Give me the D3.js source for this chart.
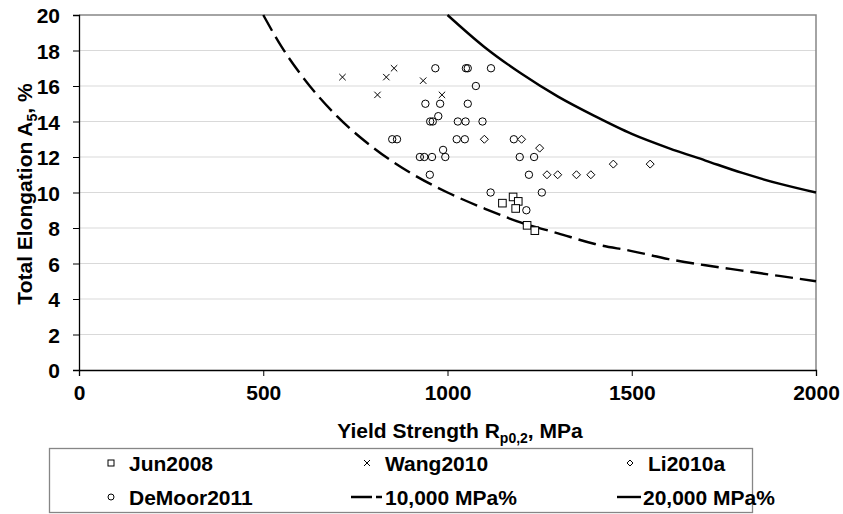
<!DOCTYPE html>
<html>
<head>
<meta charset="utf-8">
<script src="https://cdn.jsdelivr.net/npm/d3@7"></script>
<style>
body{margin:0;background:#fff;}
text{font-family:"Liberation Sans",Arial,sans-serif;font-weight:bold;fill:#000;font-size:21px;}
</style>
</head>
<body>
<svg id="graf" width="843" height="514"></svg>
<script>
// data
var junX = [1149, 1178, 1192, 1185, 1216, 1237];
var junY = [9.4, 9.75, 9.5, 9.1, 8.15, 7.85];

var wangX = [715, 810, 834, 855, 934, 985];
var wangY = [16.5, 15.5, 16.5, 17, 16.3, 15.5];

var liX = [1100, 1201, 1250, 1270, 1299, 1350, 1389, 1450, 1550];
var liY = [13, 13, 12.5, 11, 11, 11, 11, 11.6, 11.6];

var moorX = [967, 1050, 1055, 1118, 1077, 940, 980, 1055, 975, 953, 960, 1028, 1049, 1095,
  850, 863, 1025, 1047, 1180, 988, 925, 937, 958, 994, 1196, 1235, 952, 1221, 1117, 1256, 1214];
var moorY = [17, 17, 17, 17, 16, 15, 15, 15, 14.3, 14, 14, 14, 14, 14,
  13, 13, 13, 13, 13, 12.4, 12, 12, 12, 12, 12, 12, 11, 11, 10, 10, 9];

var dashX = [500, 550, 600, 700, 800, 900, 1000, 1100, 1200, 1300, 1400, 1500, 1600, 1700, 1800, 1900, 2000];
var dashY = [20, 18.2, 16.7, 14.3, 12.5, 11.1, 10, 9.1, 8.3, 7.7, 7.1, 6.7, 6.25, 5.9, 5.6, 5.3, 5];

var solidX = [1000, 1100, 1200, 1300, 1400, 1500, 1600, 1700, 1800, 1900, 2000];
var solidY = [20, 18.2, 16.7, 15.4, 14.3, 13.3, 12.5, 11.8, 11.1, 10.5, 10];

var xTicks = [0, 500, 1000, 1500, 2000];
var yTicks = [0, 2, 4, 6, 8, 10, 12, 14, 16, 18, 20];

var legendNames = ["Jun2008", "Wang2010", "Li2010a", "DeMoor2011", "10,000 MPa%", "20,000 MPa%"];

function zip(a, b){
  return a.map(function(d, i){ return [d, b[i]]; });
}

function marca(g, tipo, cx, cy, s){
  // s = half size of the marker
  if(tipo == "square"){
    g.append("rect").attr("x", cx - s).attr("y", cy - s).attr("width", 2 * s).attr("height", 2 * s)
      .attr("fill", "#fff").attr("stroke", "#000").attr("stroke-width", 1);
  } else if(tipo == "circle"){
    g.append("circle").attr("cx", cx).attr("cy", cy).attr("r", s)
      .attr("fill", "none").attr("stroke", "#000").attr("stroke-width", 1);
  } else if(tipo == "diamond"){
    g.append("path")
      .attr("d", "M" + cx + "," + (cy - s) + "L" + (cx + s) + "," + cy + "L" + cx + "," + (cy + s) + "L" + (cx - s) + "," + cy + "Z")
      .attr("fill", "#fff").attr("stroke", "#000").attr("stroke-width", 1);
  } else if(tipo == "cross"){
    g.append("path")
      .attr("d", "M" + (cx - s) + "," + (cy - s) + "L" + (cx + s) + "," + (cy + s) + "M" + (cx + s) + "," + (cy - s) + "L" + (cx - s) + "," + (cy + s))
      .attr("stroke", "#000").attr("stroke-width", 1);
  }
}

function graficar(){
  var svg = d3.select("#graf");
  var left = 79, right = 816, top = 15, bottom = 370;

  var x = d3.scaleLinear().domain([0, 2000]).range([left, right]);
  var y = d3.scaleLinear().domain([0, 20]).range([bottom, top]);

  // grid
  svg.append("g").selectAll("line")
    .data(yTicks.slice(1, -1))
    .enter().append("line")
    .attr("x1", left).attr("x2", right)
    .attr("y1", function(d){ return y(d); })
    .attr("y2", function(d){ return y(d); })
    .attr("stroke", "#d9d9d9").attr("stroke-width", 1);

  // frame top and right
  svg.append("path")
    .attr("d", "M" + left + "," + top + "H" + right + "V" + bottom)
    .attr("fill", "none").attr("stroke", "#868686").attr("stroke-width", 1.5);

  // axes
  var ax = svg.append("g").attr("transform", "translate(0," + bottom + ")")
    .call(d3.axisBottom(x).tickValues(xTicks).tickSize(6).tickFormat(d3.format("d")));
  ax.select(".domain").attr("stroke", "#000").attr("stroke-width", 1.3);
  ax.selectAll(".tick line").attr("stroke", "#000");
  ax.selectAll(".tick text").attr("y", 30).attr("dy", 0).style("font-size", "21px")
    .style("font-family", "'Liberation Sans',Arial,sans-serif").style("font-weight", "bold");

  var ay = svg.append("g").attr("transform", "translate(" + left + ",0)")
    .call(d3.axisLeft(y).tickValues(yTicks).tickSize(6));
  ay.select(".domain").attr("stroke", "#000").attr("stroke-width", 1.3);
  ay.selectAll(".tick line").attr("stroke", "#000");
  ay.selectAll(".tick text").attr("x", -19).attr("dy", "0.36em").style("font-size", "21px")
    .style("font-family", "'Liberation Sans',Arial,sans-serif").style("font-weight", "bold");

  // curves
  var linea = d3.line().x(function(d){ return x(d[0]); }).y(function(d){ return y(d[1]); })
    .curve(d3.curveMonotoneX);

  svg.append("path").datum(zip(dashX, dashY)).attr("d", linea)
    .attr("fill", "none").attr("stroke", "#000").attr("stroke-width", 2.4)
    .attr("stroke-dasharray", "18,7");
  svg.append("path").datum(zip(solidX, solidY)).attr("d", linea)
    .attr("fill", "none").attr("stroke", "#000").attr("stroke-width", 2.4);

  // points
  var gp = svg.append("g");
  zip(moorX, moorY).forEach(function(d){ marca(gp, "circle", x(d[0]), y(d[1]), 3.7); });
  zip(wangX, wangY).forEach(function(d){ marca(gp, "cross", x(d[0]), y(d[1]), 3.2); });
  zip(liX, liY).forEach(function(d){ marca(gp, "diamond", x(d[0]), y(d[1]), 4); });
  zip(junX, junY).forEach(function(d){ marca(gp, "square", x(d[0]), y(d[1]), 3.8); });

  // titles
  var tx = svg.append("text").attr("x", 460).attr("y", 438).attr("text-anchor", "middle");
  tx.append("tspan").text("Yield Strength R");
  tx.append("tspan").text("p0,2").attr("font-size", "14px").attr("dy", 5);
  tx.append("tspan").text(", MPa").attr("dy", -5);

  var ty = svg.append("text").attr("transform", "translate(32,194) rotate(-90)").attr("text-anchor", "middle");
  ty.append("tspan").text("Total Elongation A");
  ty.append("tspan").text("5").attr("font-size", "14px").attr("dy", 5);
  ty.append("tspan").text(", %").attr("dy", -5);

  // legend
  svg.append("rect").attr("x", 49.5).attr("y", 448.5).attr("width", 703).attr("height", 64)
    .attr("fill", "#fff").attr("stroke", "#868686").attr("stroke-width", 1.3);

  var colX = [111, 367, 630];
  var rowY = [463, 497];
  var tipos = ["square", "cross", "diamond", "circle", "dash", "solid"];
  var gl = svg.append("g");
  for(var i = 0; i < legendNames.length; i++){
    var cx = colX[i % 3], cy = rowY[Math.floor(i / 3)];
    var t = tipos[i];
    if(t == "dash"){
      gl.append("line").attr("x1", 351).attr("x2", 382).attr("y1", cy).attr("y2", cy)
        .attr("stroke", "#000").attr("stroke-width", 2.4).attr("stroke-dasharray", "21,4,7");
    } else if(t == "solid"){
      gl.append("line").attr("x1", 617).attr("x2", 641).attr("y1", cy).attr("y2", cy)
        .attr("stroke", "#000").attr("stroke-width", 2.4);
    } else {
      marca(gl, t, cx, cy, 3);
    }
    gl.append("text").text(legendNames[i])
      .attr("x", t == "solid" ? 643 : (t == "dash" ? 385 : cx + 18))
      .attr("y", cy + 7.5);
  }
}

graficar();
</script>
</body>
</html>
